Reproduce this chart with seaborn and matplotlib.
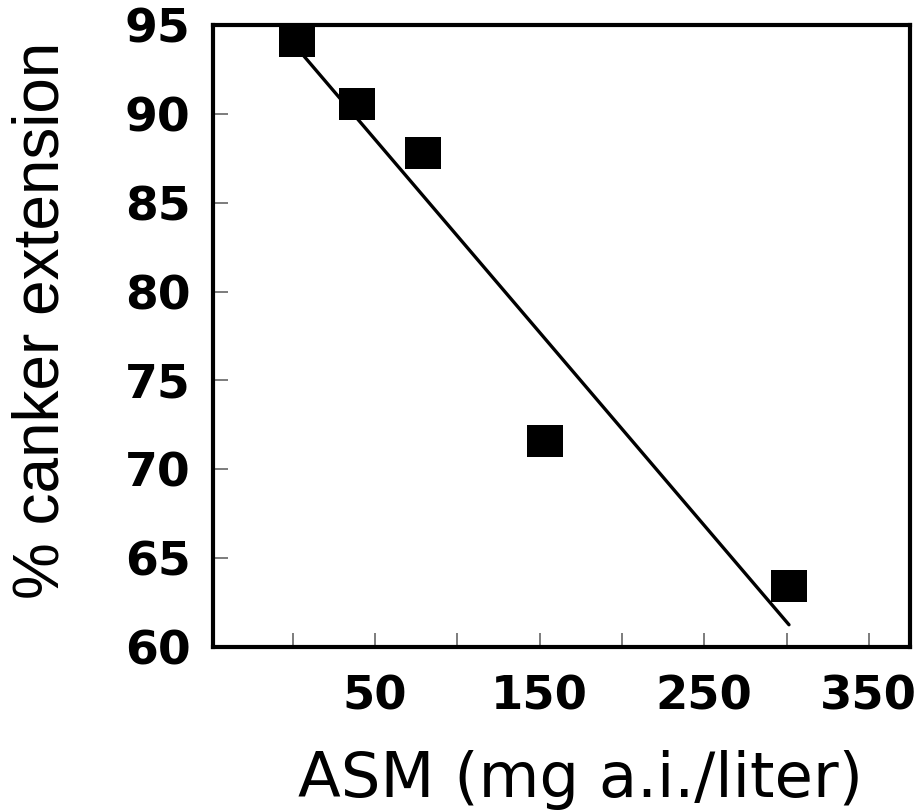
import matplotlib
matplotlib.use("Agg")
import matplotlib.pyplot as plt
from matplotlib.path import Path
import numpy as np
import pandas as pd
import seaborn as sns

# ASM dose (mg a.i./liter) and resulting canker extension (%)
asm_dose = [2.5, 39, 79, 153, 301.5]
canker_ext = [94.1, 90.55, 87.8, 71.6, 63.45]

x_ticks = [0, 50, 100, 150, 200, 250, 300, 350]
x_tick_labels = ["", "50", "", "150", "", "250", "", "350"]
y_ticks = [60, 65, 70, 75, 80, 85, 90, 95]

df = pd.DataFrame({"dose": asm_dose, "ext": canker_ext})

sns.set_style("ticks")
plt.rcParams["font.family"] = ["DejaVu Sans"]
plt.rcParams["axes.labelcolor"] = "black"
plt.rcParams["text.color"] = "black"

fig = plt.figure(figsize=(9.16, 8.11), dpi=100)
ax = fig.add_axes([0.2325, 0.2022, 0.7609, 0.7670])

# slightly wide filled square marker
box = Path([(-1.12, -1), (1.12, -1), (1.12, 1), (-1.12, 1), (-1.12, -1)],
           [Path.MOVETO, Path.LINETO, Path.LINETO, Path.LINETO, Path.CLOSEPOLY])

sns.regplot(data=df, x="dose", y="ext", ax=ax, ci=None, truncate=True,
            marker=box,
            scatter_kws=dict(s=26.5 ** 2, color="black", alpha=1,
                             linewidths=0, zorder=3),
            line_kws=dict(color="black", lw=2.4, zorder=2))

ax.set_xlim(-48.5, 375)
ax.set_ylim(60, 95)

ax.set_xticks(x_ticks)
ax.set_xticklabels(x_tick_labels)
ax.set_yticks(y_ticks)
ax.set_yticklabels([str(v) for v in y_ticks])

for s in ax.spines.values():
    s.set_visible(True)
    s.set_linewidth(3)
    s.set_color("black")

ax.tick_params(axis="x", direction="in", length=10, width=1.2, colors="#666666",
               labelcolor="black", labelsize=33.5, pad=20)
ax.tick_params(axis="y", direction="in", length=11, width=1.2, colors="#666666",
               labelcolor="black", labelsize=34, pad=16)
for lab in ax.get_xticklabels() + ax.get_yticklabels():
    lab.set_fontweight("bold")

ax.set_xlabel("ASM (mg a.i./liter)", fontsize=45, color="black",
              family=["DejaVu Sans"])
ax.set_ylabel("% canker extension", fontsize=46, color="black",
              family=["Liberation Sans", "DejaVu Sans"])
ax.xaxis.set_label_coords(0.528, -0.165)
ax.yaxis.set_label_coords(-0.2023, 0.5257)

fig.savefig("out.png", dpi=100)
